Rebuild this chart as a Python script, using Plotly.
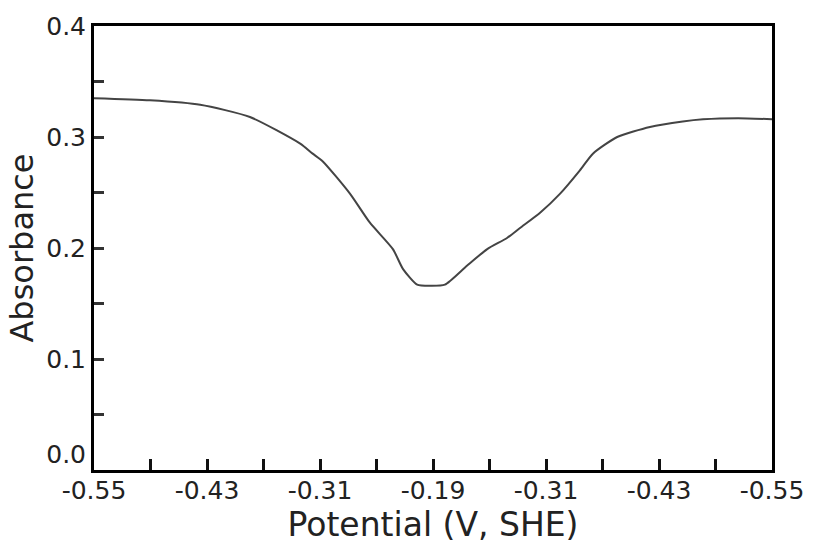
import plotly.graph_objects as go

# sweep index (0..12), each step = 0.06 V; forward -0.55 -> -0.19, back to -0.55
sweep_index = [0, 0.99, 1.88, 2.76, 3.65, 3.87, 4.05, 4.53, 4.88, 5.29, 5.47, 5.72,
               5.95, 6.21, 6.60, 6.96, 7.31, 7.54, 7.90, 8.25, 8.60, 8.83, 9.26,
               9.84, 10.42, 10.78, 11.4, 12]
absorbance = [0.335, 0.333, 0.329, 0.318, 0.294, 0.285, 0.278, 0.249, 0.223, 0.199,
              0.181, 0.167, 0.166, 0.167, 0.184, 0.199, 0.209, 0.218, 0.232, 0.249,
              0.270, 0.285, 0.300, 0.309, 0.314, 0.316, 0.317, 0.316]

x_tick_vals = [0, 2, 4, 6, 8, 10, 12]
x_tick_text = ["-0.55", "-0.43", "-0.31", "-0.19", "-0.31", "-0.43", "-0.55"]
x_minor_vals = list(range(0, 13))
y_tick_vals = [0, 0.05, 0.1, 0.15, 0.2, 0.25, 0.3, 0.35, 0.4]
y_tick_text = ["0.0<br> ", "", "0.1", "", "0.2", "", "0.3", "", "0.4"]

fig = go.Figure()
fig.add_trace(go.Scatter(x=sweep_index, y=absorbance, mode="lines",
                         line=dict(color="#444444", width=2, shape="spline", smoothing=0.6),
                         showlegend=False))

font_family = "DejaVu Sans"
fig.update_layout(
    width=816, height=544,
    margin=dict(l=94, r=44, t=20, b=74),
    paper_bgcolor="white", plot_bgcolor="white",
    font=dict(family=font_family, color="#222"),
    xaxis=dict(range=[0, 12], tickmode="array", tickvals=x_minor_vals,
               ticktext=[x_tick_text[x_tick_vals.index(v)] if v in x_tick_vals else "" for v in x_minor_vals],
               ticks="inside", ticklen=11, tickwidth=3, tickcolor="#111",
               showline=True, linewidth=3, linecolor="black", mirror=True,
               showgrid=False, zeroline=False, ticklabelstandoff=-4,
               tickfont=dict(size=25, family=font_family, color="#222"),
               title=dict(text="Potential (V, SHE)", font=dict(size=33, family=font_family, color="#222"),
                          standoff=2)),
    yaxis=dict(range=[0, 0.4], tickmode="array", tickvals=y_tick_vals, ticktext=y_tick_text,
               ticks="inside", ticklen=10, tickwidth=3, tickcolor="#333",
               showline=True, linewidth=3, linecolor="black", mirror=True,
               showgrid=False, zeroline=False,
               tickfont=dict(size=25, family=font_family, color="#222"),
               title=dict(text="Absorbance", font=dict(size=32, family=font_family, color="#222"),
                          standoff=4)),
)

fig.write_html("out.html")
